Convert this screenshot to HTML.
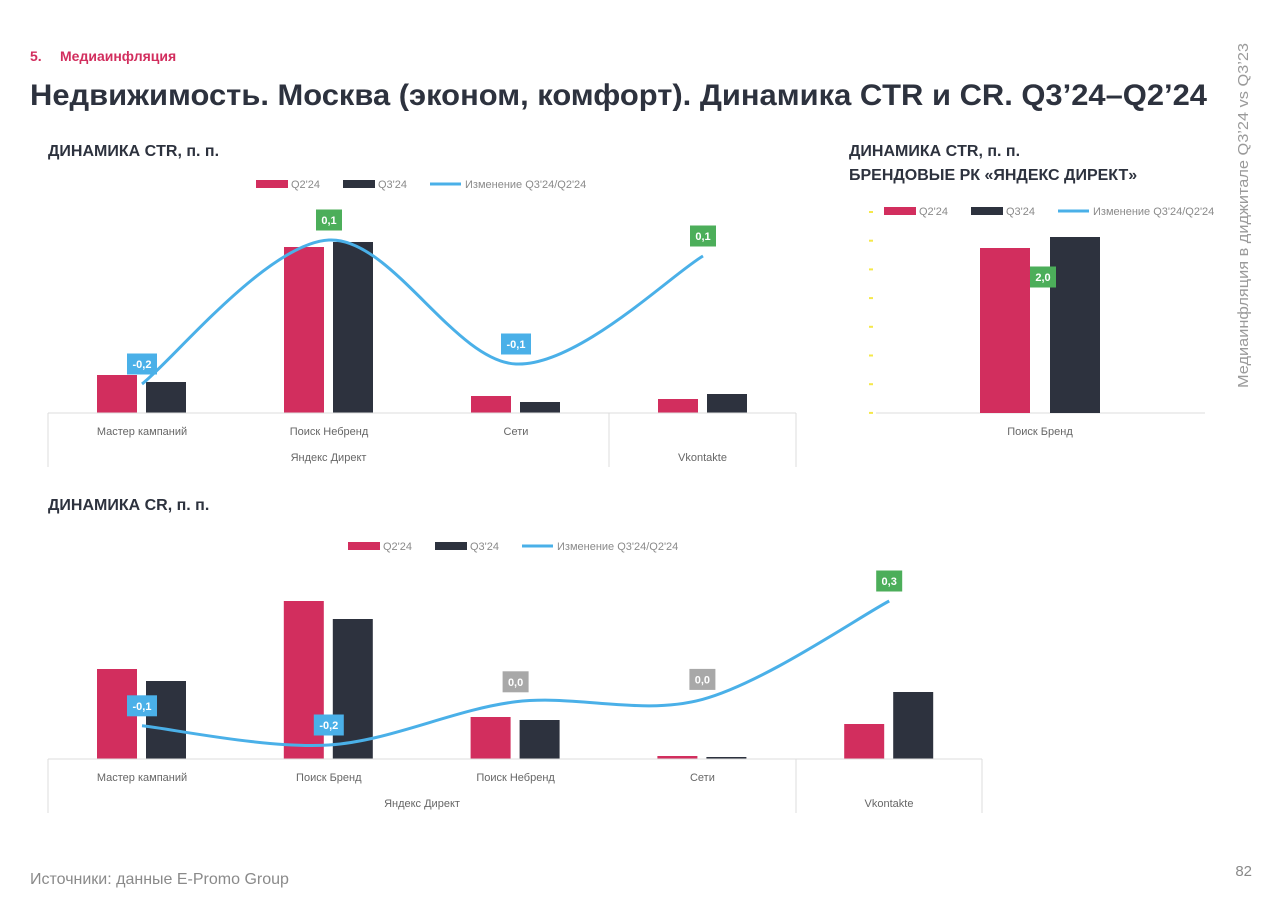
<!DOCTYPE html>
<html><head><meta charset="utf-8"><style>
body{margin:0;background:#fff}
svg{display:block;font-family:"Liberation Sans",sans-serif}
</style></head><body>
<svg id="s" width="1271" height="900" viewBox="0 0 1271 900">
<text x="30" y="61" font-size="14" font-weight="bold" fill="#d22e5e">5.</text>
<text x="60" y="61" font-size="14" font-weight="bold" fill="#d22e5e">Медиаинфляция</text>
<text x="30" y="105" font-size="30" font-weight="bold" fill="#2d323e" textLength="1177" lengthAdjust="spacingAndGlyphs">Недвижимость. Москва (эконом, комфорт). Динамика CTR и CR. Q3’24–Q2’24</text>
<text transform="translate(1248,388) rotate(-90)" font-size="15" fill="#9a9a9a" textLength="345" lengthAdjust="spacingAndGlyphs">Медиаинфляция в диджитале Q3’24 vs Q3’23</text>
<text x="48" y="156" font-size="16" font-weight="bold" fill="#2d323e">ДИНАМИКА CTR, п. п.</text>
<text x="849" y="156" font-size="16" font-weight="bold" fill="#2d323e">ДИНАМИКА CTR, п. п.</text>
<text x="849" y="180" font-size="16" font-weight="bold" fill="#2d323e">БРЕНДОВЫЕ РК «ЯНДЕКС ДИРЕКТ»</text>
<text x="48" y="510" font-size="16" font-weight="bold" fill="#2d323e">ДИНАМИКА CR, п. п.</text>
<text x="30" y="884" font-size="16" fill="#8a8a8a">Источники: данные E-Promo Group</text>
<text x="1252" y="876" font-size="15" fill="#8a8a8a" text-anchor="end">82</text>
<g id="g1"></g>
<g id="g2"></g>
<g id="g3"></g>
</svg>
<script>
// CTR chart data
const ctrCategories = ["Мастер кампаний","Поиск Небренд","Сети",""];
const ctrQ2 = [38, 166, 17, 14];
const ctrQ3 = [31, 171, 11, 19];
const ctrChange = [-0.16, 0.2, -0.11, 0.16];
const ctrChangeLabels = ["-0,2","0,1","-0,1","0,1"];
// Brand chart data
const brandCategories = ["Поиск Бренд"];
const brandQ2 = [165];
const brandQ3 = [176];
const brandChangeLabels = ["2,0"];
// CR chart data
const crCategories = ["Мастер кампаний","Поиск Бренд","Поиск Небренд","Сети",""];
const crQ2 = [90, 158, 42, 3, 35];
const crQ3 = [78, 140, 39, 2, 67];
const crChange = [-0.07, -0.15, 0.03, 0.04, 0.45];
const crChangeLabels = ["-0,1","-0,2","0,0","0,0","0,3"];

const NS="http://www.w3.org/2000/svg";
const RED="#d22e5e",DARK="#2d323e",BLUE="#4ab0e8",GREEN="#4cae5a",GRAY="#a8a8a8";
function mk(p,tag,a){const e=document.createElementNS(NS,tag);for(const k in a)e.setAttribute(k,a[k]);p.appendChild(e);return e;}
function txt(p,x,y,s,size,fill,anchor){const t=mk(p,"text",{x:x,y:y,"font-size":size,fill:fill,"text-anchor":anchor||"start"});t.textContent=s;return t;}
function spline(pts){let d="M"+pts[0][0]+","+pts[0][1];for(let i=0;i<pts.length-1;i++){const p0=pts[i-1]||pts[i],p1=pts[i],p2=pts[i+1],p3=pts[i+2]||p2;const t=0.33;
d+=" C"+(p1[0]+(p2[0]-p0[0])*t/2)+","+(p1[1]+(p2[1]-p0[1])*t/2)+" "+(p2[0]-(p3[0]-p1[0])*t/2)+","+(p2[1]-(p3[1]-p1[1])*t/2)+" "+p2[0]+","+p2[1];}return d;}
function legend(g,x,y){
 let r=mk(g,"rect",{x:x,y:y-4,width:32,height:8,fill:RED});
 txt(g,x+35,y+4,"Q2'24",11,"#8a8a8a");
 r=mk(g,"rect",{x:x+87,y:y-4,width:32,height:8,fill:DARK});
 txt(g,x+122,y+4,"Q3'24",11,"#8a8a8a");
 r=mk(g,"line",{x1:x+174,y1:y,x2:x+205,y2:y,stroke:BLUE,"stroke-width":3});
 txt(g,x+209,y+4,"Изменение Q3'24/Q2'24",11,"#8a8a8a");
}
function badge(g,cx,cy,label){
 const c=label.startsWith("-")?BLUE:(label==="0,0"?GRAY:GREEN);
 const w=label.length>3?30:26;
 const r=mk(g,"rect",{x:cx-w/2,y:cy-10.5,width:w,height:21,fill:c});
 
 txt(g,cx,cy+4,label,11,"#fff","middle").setAttribute("font-weight","bold");
}
function chart(g,o){
 const base=o.base, xOf=i=>o.x0+i*o.step, yOf=v=>base-v*o.k, lyOf=v=>o.la-o.lb*v;
 legend(g,o.legX,o.legY);
 o.q2.forEach((v,i)=>{const b=mk(g,"rect",{x:xOf(i)-45,y:yOf(v),width:40,height:v*o.k,fill:RED});
  });
 o.q3.forEach((v,i)=>{const b=mk(g,"rect",{x:xOf(i)+4,y:yOf(v),width:40,height:v*o.k,fill:DARK});
  });
 const pts=o.ch.map((v,i)=>[xOf(i),lyOf(v)]);
 const l=mk(g,"path",{d:spline(pts),fill:"none",stroke:BLUE,"stroke-width":3});
 
 pts.forEach((p,i)=>badge(g,p[0],p[1]-20,o.labels[i]));
 const ax=mk(g,"g",{stroke:"#dcdcdc","stroke-width":1,fill:"none"});
 
 mk(ax,"line",{x1:48,y1:base,x2:o.x1,y2:base});
 [48,o.div,o.x1].forEach(x=>mk(ax,"line",{x1:x,y1:base,x2:x,y2:base+54}));
 o.cats.forEach((c,i)=>{if(c)txt(g,xOf(i),base+22,c,11,"#666","middle");});
 txt(g,(48+o.div)/2,base+48,"Яндекс Директ",11,"#666","middle");
 txt(g,(o.div+o.x1)/2,base+48,"Vkontakte",11,"#666","middle");
}
chart(document.getElementById("g1"),{base:413,x0:142,step:187,k:1,cats:ctrCategories,q2:ctrQ2,q3:ctrQ3,ch:ctrChange,labels:ctrChangeLabels,la:320,lb:400,x1:796,div:609,legX:256,legY:184});
chart(document.getElementById("g3"),{base:759,x0:142,step:186.8,k:1,cats:crCategories,q2:crQ2,q3:crQ3,ch:crChange,labels:crChangeLabels,la:709,lb:240,x1:982,div:796,legX:348,legY:546});
// brand chart
(function(){
 const g=document.getElementById("g2"),base=413,cx=1040;
 legend(g,884,211);
 for(let i=0;i<8;i++){const t=mk(g,"rect",{x:869,y:212+i*28.7-1,width:4,height:2,fill:"#f5e84a"});
  }
 mk(g,"line",{x1:876,y1:base,x2:1205,y2:base,stroke:"#dcdcdc"});
 brandQ2.forEach(v=>{const b=mk(g,"rect",{x:cx-60,y:base-v,width:50,height:v,fill:RED});
  });
 brandQ3.forEach(v=>{const b=mk(g,"rect",{x:cx+10,y:base-v,width:50,height:v,fill:DARK});
  });
 brandChangeLabels.forEach(l=>badge(g,cx+3,277,l));
 brandCategories.forEach(c=>txt(g,cx,435,c,11,"#666","middle"));
})();
</script>
</body></html>
